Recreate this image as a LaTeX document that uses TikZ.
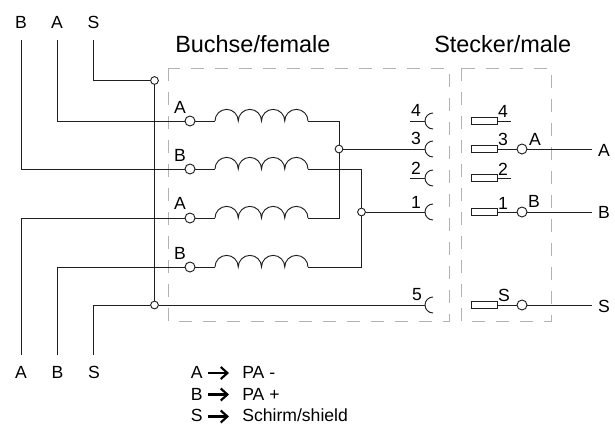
\documentclass[tikz,border=0pt]{standalone}
\usepackage{fontspec}
\setmainfont{Liberation Sans}
\usetikzlibrary{arrows.meta}
\definecolor{wire}{gray}{0.12}
\definecolor{dash}{gray}{0.7}
\tikzset{
  wireline/.style={draw=wire,line width=0.7pt},
  dashbox/.style={draw=dash,line width=0.75pt,dash pattern=on 9.5pt off 8.5pt},
  term/.style={circle,draw=wire,fill=white,line width=0.7pt,minimum size=7.5pt,inner sep=0pt},
  junction/.style={circle,draw=wire,fill=white,line width=0.7pt,minimum size=5.8pt,inner sep=0pt},
  pinbox/.style={rectangle,draw=wire,line width=0.7pt,minimum width=19.5pt,minimum height=5.2pt,inner sep=0pt},
  lab/.style={inner sep=0pt,font=\fontsize{13.2}{15}\selectfont},
  head/.style={inner sep=0pt,anchor=west,font=\fontsize{17.6}{20}\selectfont},
  leg/.style={inner sep=0pt,anchor=west,font=\fontsize{13.2}{15}\selectfont},
  coil/.style={to path={arc[start angle=180,end angle=0,radius=8.72pt] arc[start angle=180,end angle=0,radius=8.72pt] arc[start angle=180,end angle=0,radius=8.72pt] arc[start angle=180,end angle=0,radius=8.72pt]}},
  legarrow/.style={draw=black,line width=1.6pt,-{Straight Barb[length=5pt,width=9pt,line width=1.6pt]}}
}
\begin{document}
\begin{tikzpicture}[x=0.75pt,y=-0.75pt]
\useasboundingbox (0,0) rectangle (615,426);
% dashed housings
\coordinate (fa) at (168,68); \coordinate (fb) at (449,321);
\coordinate (ma) at (461,68); \coordinate (mb) at (551,321);
\draw[dashbox] (fa) rectangle (fb);
\draw[dashbox] (ma) rectangle (mb);
% headings
\node[head] (hf) at (175,44) {Buchse/female};
\node[head] (hm) at (434,44) {Stecker/male};
% outer terminals
\coordinate (tB) at (21,40); \coordinate (tA) at (57,40); \coordinate (tS) at (93,40);
\coordinate (bA) at (21,355); \coordinate (bB) at (57,355); \coordinate (bS) at (93,355);
\node[lab] (ltB) at (21,22) {B};
\node[lab] (ltA) at (57,22) {A};
\node[lab] (ltS) at (93.5,22) {S};
\node[lab] (lbA) at (21,372) {A};
\node[lab] (lbB) at (57.5,372) {B};
\node[lab] (lbS) at (94,372) {S};
% junctions
\node[junction] (jS1) at (154.5,80.5) {};
\node[junction] (jS2) at (154.5,305) {};
\node[junction] (jA) at (339,149) {};
\node[junction] (jB) at (361.5,212) {};
% input terminals
\node[term] (i1) at (190,121) {};
\node[term] (i2) at (190,169) {};
\node[term] (i3) at (190,218) {};
\node[term] (i4) at (190,267) {};
\node[lab] (li1) at (180,107) {A};
\node[lab] (li2) at (180,155) {B};
\node[lab] (li3) at (180,203) {A};
\node[lab] (li4) at (180,253) {B};
% coil ends
\coordinate (c1a) at (215,121); \coordinate (c1b) at (308,121);
\coordinate (c2a) at (215,169); \coordinate (c2b) at (308,169);
\coordinate (c3a) at (215,218); \coordinate (c3b) at (308,218);
\coordinate (c4a) at (215,267); \coordinate (c4b) at (308,267);
\draw[wireline] (c1a) to[coil] (c1b);
\draw[wireline] (c2a) to[coil] (c2b);
\draw[wireline] (c3a) to[coil] (c3b);
\draw[wireline] (c4a) to[coil] (c4b);
% bends
\coordinate (kA1) at (339,121); \coordinate (kA2) at (339,218);
\coordinate (kB1) at (361.5,169); \coordinate (kB2) at (361.5,267);
% wiring on the left
\draw[wireline] (tS) |- (jS1);
\draw[wireline] (jS1) -- (jS2);
\draw[wireline] (bS) |- (jS2);
\draw[wireline] (tA) |- (i1);
\draw[wireline] (tB) |- (i2);
\draw[wireline] (bA) |- (i3);
\draw[wireline] (bB) |- (i4);
\draw[wireline] (i1) -- (c1a);
\draw[wireline] (i2) -- (c2a);
\draw[wireline] (i3) -- (c3a);
\draw[wireline] (i4) -- (c4a);
\draw[wireline] (c1b) -- (kA1) -- (jA);
\draw[wireline] (c3b) -- (kA2) -- (jA);
\draw[wireline] (c2b) -- (kB1) -- (jB);
\draw[wireline] (c4b) -- (kB2) -- (jB);
% socket contacts
\coordinate (s4) at (425,121); \coordinate (s3) at (425,149);
\coordinate (s2) at (425,178); \coordinate (s1) at (425,212);
\coordinate (s5) at (425,305);
\coordinate (s4w) at (410,121); \coordinate (s2w) at (410,178);
\foreach \s in {s1,s2,s3,s4,s5}{
  \draw[wireline] (\s) arc[start angle=180,end angle=90,radius=6pt];
  \draw[wireline] (\s) arc[start angle=180,end angle=270,radius=6pt];
}
\draw[wireline] (s4w) -- (s4);
\draw[wireline] (s2w) -- (s2);
\draw[wireline] (jA) -- (s3);
\draw[wireline] (jB) -- (s1);
\draw[wireline] (jS2) -- (s5);
\node[lab] (n4) at (416,110.5) {4};
\node[lab] (n3) at (416,138) {3};
\node[lab] (n2) at (416,168.5) {2};
\node[lab] (n1) at (416,202) {1};
\node[lab] (n5) at (417,295) {5};
% plug pins
\node[pinbox] (p4) at (484,121) {};
\node[pinbox] (p3) at (484,149) {};
\node[pinbox] (p2) at (484,178) {};
\node[pinbox] (p1) at (484,212) {};
\node[pinbox] (p5) at (484,305) {};
\node[term] (o3) at (522,149) {};
\node[term] (o1) at (522,212) {};
\node[term] (o5) at (522,305) {};
\coordinate (e4) at (511,121); \coordinate (e2) at (511,178);
\coordinate (e3) at (592,149); \coordinate (e1) at (592,212); \coordinate (e5) at (592,305);
\draw[wireline] (p4) -- (e4);
\draw[wireline] (p2) -- (e2);
\draw[wireline] (p3) -- (o3);
\draw[wireline] (p1) -- (o1);
\draw[wireline] (p5) -- (o5);
\draw[wireline] (o3) -- (e3);
\draw[wireline] (o1) -- (e1);
\draw[wireline] (o5) -- (e5);
\node[lab] (m4) at (503,111) {4};
\node[lab] (m3) at (503,139) {3};
\node[lab] (m2) at (503,169) {2};
\node[lab] (m1) at (503,203) {1};
\node[lab] (m5) at (504,295) {S};
\node[lab] (ma3) at (535,139.5) {A};
\node[lab] (mb1) at (534,201) {B};
\node[lab] (rA) at (604,150) {A};
\node[lab] (rB) at (604,212) {B};
\node[lab] (rS) at (604,306.5) {S};
% legend
\node[leg] (g1) at (190.5,372) {A};
\node[leg] (g2) at (190.5,394) {B};
\node[leg] (g3) at (190.5,415.5) {S};
\node[leg] (d1) at (242,372) {PA -};
\node[leg] (d2) at (242,394) {PA +};
\node[leg] (d3) at (242,415.5) {Schirm/shield};
\draw[legarrow] (208,373) -- (229,373);
\draw[legarrow] (208,394.5) -- (229,394.5);
\draw[legarrow] (208,416.5) -- (229,416.5);
\end{tikzpicture}
\end{document}
